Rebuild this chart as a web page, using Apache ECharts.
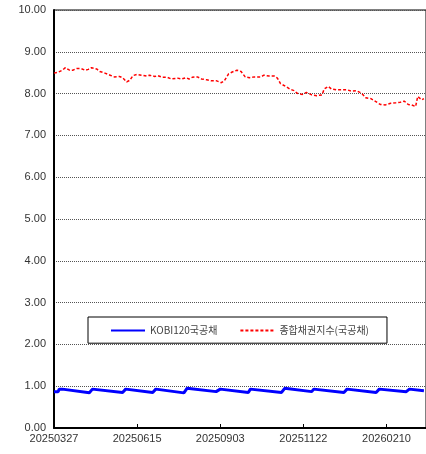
<!DOCTYPE html>
<html>
<head>
<meta charset="utf-8">
<script src="https://cdn.jsdelivr.net/npm/echarts@6/dist/echarts.min.js"></script>
<style>html,body{margin:0;padding:0;background:#fff;}#c{width:426px;height:454px;}</style>
</head>
<body>
<div id="c"></div>
<script>
// ---- data ----
const startDate = '20250327';
const seriesNames = ['KOBI120국공채', '종합채권지수(국공채)'];

const kobiDates = ['20250327','20250331','20250401','20250404','20250430','20250503','20250601','20250604',
  '20250630','20250703','20250730','20250802','20250830','20250903','20250930','20251002','20251101','20251104',
  '20251130','20251202','20251231','20260103','20260131','20260203','20260301','20260304','20260318'];
const kobiValues = [0.87,0.87,0.93,0.93,0.845,0.93,0.85,0.93,
  0.85,0.93,0.84,0.95,0.87,0.93,0.85,0.93,0.85,0.95,
  0.87,0.93,0.85,0.93,0.85,0.93,0.87,0.93,0.89];

const compDates = ['20250327','20250331','20250404','20250407','20250411','20250414','20250418','20250422','20250426','20250429',
  '20250502','20250507','20250510','20250515','20250520','20250524','20250529','20250601','20250605','20250608',
  '20250611','20250615','20250619','20250624','20250627','20250702','20250705','20250709','20250714','20250718',
  '20250724','20250728','20250801','20250804','20250807','20250812','20250816','20250821','20250825','20250830',
  '20250904','20250907','20250911','20250914','20250919','20250923','20250927','20251001','20251006','20251012',
  '20251015','20251020','20251025','20251028','20251031','20251105','20251109','20251113','20251116','20251121',
  '20251125','20251130','20251205','20251210','20251212','20251216','20251219','20251224','20251229','20260103',
  '20260107','20260112','20260117','20260121','20260126','20260130','20260204','20260209','20260214','20260219',
  '20260223','20260227','20260303','20260306','20260310','20260312','20260316','20260318'];
const compValues = [8.49,8.51,8.56,8.62,8.56,8.56,8.60,8.60,8.56,8.58,
  8.62,8.59,8.53,8.49,8.44,8.40,8.41,8.38,8.28,8.32,
  8.43,8.46,8.44,8.42,8.44,8.41,8.43,8.39,8.39,8.35,
  8.37,8.35,8.38,8.35,8.39,8.40,8.35,8.33,8.31,8.31,
  8.26,8.31,8.47,8.51,8.56,8.53,8.40,8.38,8.40,8.40,
  8.44,8.42,8.42,8.37,8.24,8.17,8.11,8.07,8.01,7.98,
  8.03,7.97,7.95,7.97,8.11,8.17,8.11,8.09,8.09,8.09,
  8.06,8.07,8.01,7.90,7.88,7.82,7.74,7.73,7.77,7.78,
  7.79,7.82,7.74,7.73,7.69,7.93,7.85,7.88];

const yTicks = ['0.00','1.00','2.00','3.00','4.00','5.00','6.00','7.00','8.00','9.00','10.00'];

// ---- helpers ----
function ut(s){ return Date.UTC(+s.slice(0,4), +s.slice(4,6)-1, +s.slice(6,8)); }
const T0 = ut(startDate);
function toDay(s){ return Math.round((ut(s) - T0) / 86400000); }
function dayLabel(v){
  const d = new Date(T0 + v * 86400000);
  const p = n => (n < 10 ? '0' : '') + n;
  return '' + d.getUTCFullYear() + p(d.getUTCMonth() + 1) + p(d.getUTCDate());
}

const chart = echarts.init(document.getElementById('c'));
const txt = '#333';
chart.setOption({
  animation: false,
  backgroundColor: '#fff',
  grid: { left: 54, right: -2, top: 10, bottom: 26, show: true, borderColor: '#000', borderWidth: 1, containLabel: false },
  legend: {
    left: 88, top: 317,
    padding: [8, 18, 7, 22],
    itemGap: 22, itemWidth: 34, itemHeight: 14,
    borderColor: '#000', borderWidth: 1, backgroundColor: '#fff',
    itemStyle: { opacity: 0 },
    textStyle: { fontFamily: 'Noto Sans CJK KR', fontSize: 10, color: '#444' },
    data: seriesNames
  },
  xAxis: {
    type: 'value', min: 0, max: 358, interval: 80,
    axisLine: { show: true, lineStyle: { color: '#000', width: 2 } },
    axisTick: { show: true, inside: true, length: 4, lineStyle: { color: '#000', width: 1 } },
    splitLine: { show: false },
    axisLabel: {
      margin: 5, color: txt, fontFamily: 'Liberation Sans', fontSize: 11,
      showMaxLabel: false,
      formatter: v => (v % 80 === 0 && v <= 320) ? dayLabel(v) : ''
    }
  },
  yAxis: {
    type: 'value', min: 0, max: 10, interval: 1,
    axisLine: { show: true, lineStyle: { color: '#000', width: 2 } },
    axisTick: { show: false },
    splitLine: { show: true, lineStyle: { color: '#555', type: [1, 1], width: 1 } },
    axisLabel: { margin: 8, color: txt, fontFamily: 'Liberation Sans', fontSize: 11,
      formatter: v => yTicks[Math.round(v)] }
  },
  series: [
    {
      name: seriesNames[0], type: 'line', symbol: 'none',
      lineStyle: { color: '#0000ff', width: 3 }, itemStyle: { color: '#0000ff' },
      data: kobiDates.map((d, i) => [toDay(d), kobiValues[i]])
    },
    {
      name: seriesNames[1], type: 'line', symbol: 'none',
      lineStyle: { color: '#ff0000', width: 1.5, type: [3, 2] }, itemStyle: { color: '#ff0000' },
      data: compDates.map((d, i) => [toDay(d), compValues[i]])
    }
  ]
});
</script>
</body>
</html>
